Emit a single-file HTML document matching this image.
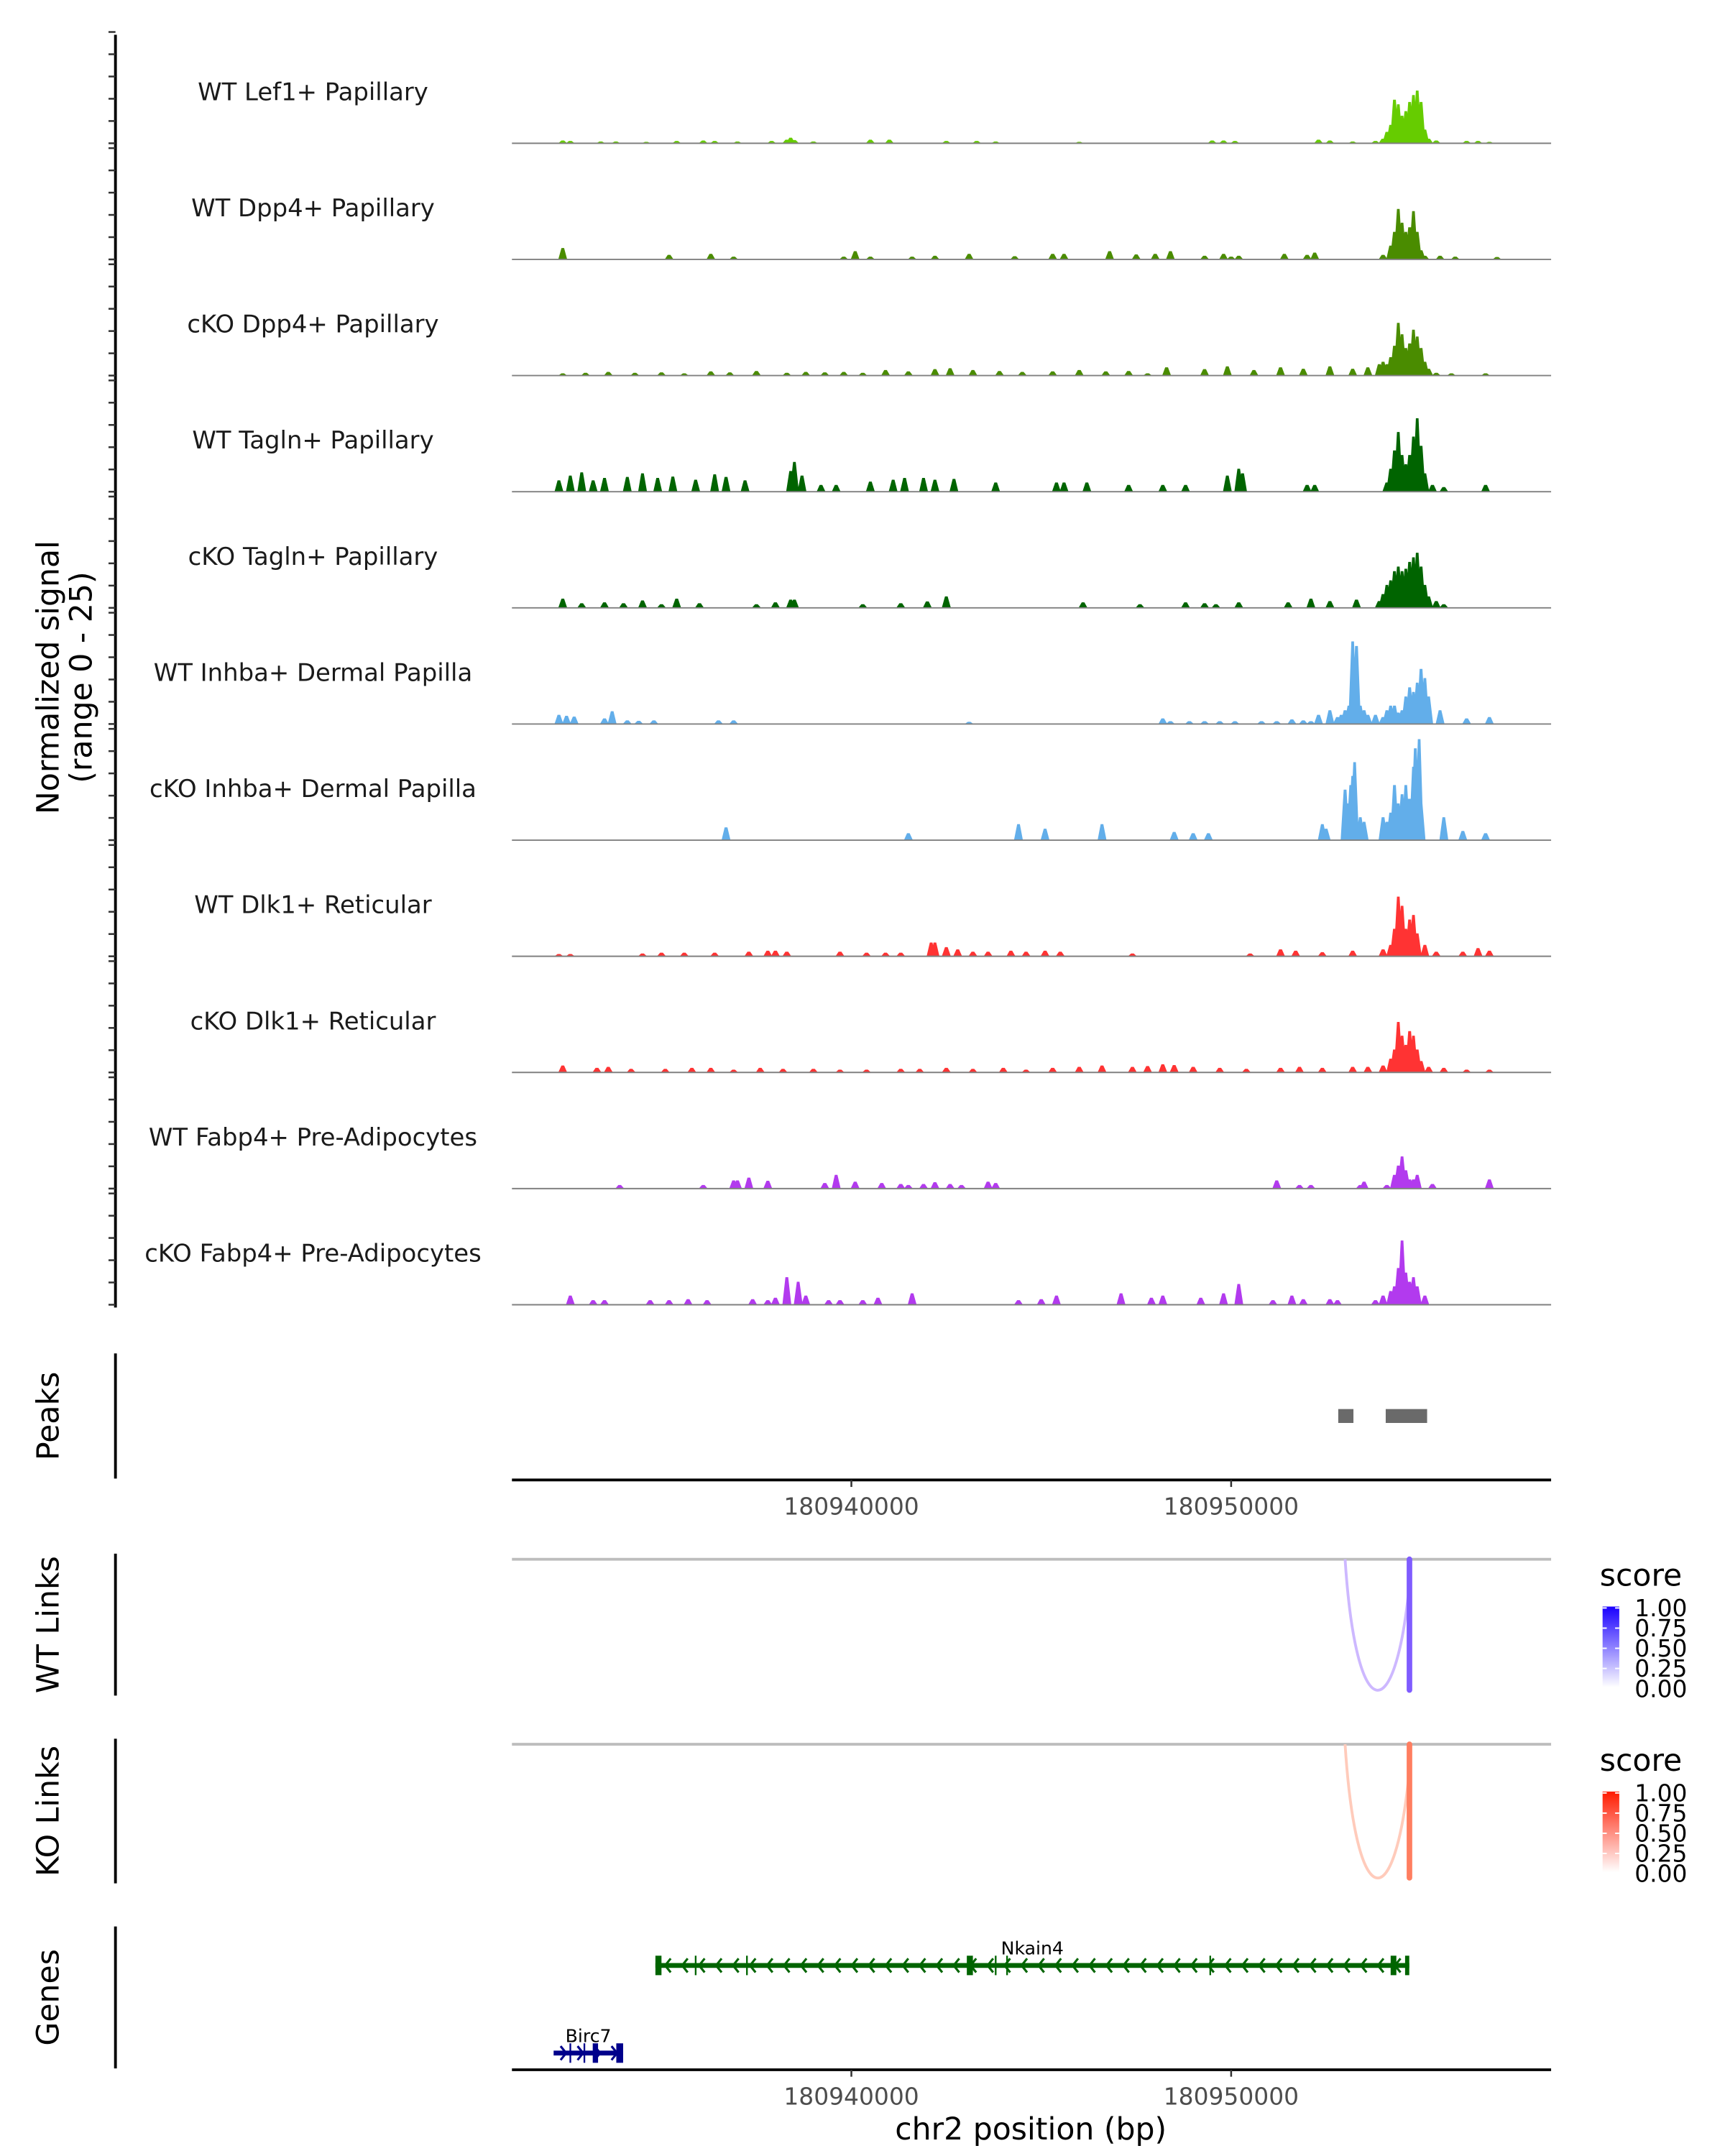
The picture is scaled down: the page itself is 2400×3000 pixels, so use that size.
<!DOCTYPE html>
<html><head><meta charset="utf-8"><style>
html,body{margin:0;padding:0;background:#fff;}
svg{display:block;}
text{font-family:"DejaVu Sans","Liberation Sans",sans-serif;}
</style></head><body>
<svg id="chart" width="2400" height="3000" viewBox="0 0 1240 1550" xmlns="http://www.w3.org/2000/svg">
<g id="tracks"></g>
<g id="axes"></g>
</svg>
<script>
// ---------- data ----------
const trackNames = ["WT Lef1+ Papillary","WT Dpp4+ Papillary","cKO Dpp4+ Papillary","WT Tagln+ Papillary","cKO Tagln+ Papillary","WT Inhba+ Dermal Papilla","cKO Inhba+ Dermal Papilla","WT Dlk1+ Reticular","cKO Dlk1+ Reticular","WT Fabp4+ Pre-Adipocytes","cKO Fabp4+ Pre-Adipocytes"];
const trackColors = ["#66cc00","#4a8c00","#4a8c00","#006400","#006400","#62aeea","#62aeea","#ff3333","#ff3333","#b23aee","#b23aee"];
// positions in kb offset from chr2:180930000, values = normalized signal (0-25)
const pos1 = [2.4,2.6,3.4,3.8,4.6,5.4,6.1,6.4,7.0,7.9,8.3,8.4,8.5,9.0,10.5,11.0,12.5,13.3,13.8,16.0,19.5,19.8,20.1,22.3,22.6,23.2,23.8,24.0,24.1,24.2,24.3,24.4,24.5,24.6,24.7,24.8,24.9,25.0,25.1,25.2,25.4,26.2,26.5,26.8];
const val1 = [0.6,0.5,0.4,0.4,0.3,0.5,0.6,0.5,0.4,0.5,0.8,1.2,0.7,0.4,0.8,0.8,0.5,0.5,0.4,0.3,0.6,0.6,0.5,0.8,0.6,0.4,0.5,1.0,2.5,4,9.5,8.5,6,7,9,10.5,11.5,9,3,1.0,0.6,0.5,0.5,0.3];
const pos2 = [2.4,5.2,6.3,6.9,9.8,10.1,10.5,11.6,12.2,13.1,14.3,15.3,15.6,16.8,17.5,18.0,18.4,19.3,19.8,20.0,20.2,21.4,22.0,22.2,24.0,24.2,24.3,24.4,24.5,24.6,24.7,24.8,24.9,25.0,25.1,25.5,25.9,27.0];
const val2 = [2.5,1,1.2,0.6,0.6,1.8,0.6,0.6,0.8,1.2,0.7,1.2,1.2,1.8,1.1,1.2,1.8,0.8,1.2,0.6,0.8,1.2,1.0,1.5,1,3,6,11,8,6,7,10.5,6,2,0.8,0.8,0.6,0.5];
const pos3 = [2.4,3.0,3.6,4.3,5.0,5.6,6.3,6.8,7.5,8.3,8.8,9.3,9.8,10.3,10.9,11.5,12.2,12.6,13.2,13.9,14.5,15.3,16.0,16.7,17.3,17.8,18.3,19.3,19.9,20.6,21.3,21.9,22.6,23.2,23.6,23.9,24.0,24.1,24.2,24.3,24.4,24.5,24.6,24.7,24.8,24.9,25.0,25.1,25.2,25.4,25.8,26.7];
const val3 = [0.5,0.6,0.8,0.6,0.7,0.5,0.9,0.7,1.0,0.6,0.8,0.7,0.8,0.6,1.2,0.9,1.4,1.6,1.2,1.0,0.8,0.9,1.2,0.9,1.0,0.5,1.8,1.4,2.0,1.2,1.8,1.5,2.0,1.5,1.8,2.5,3,2.5,4,6.5,11.5,9,6,7,10,8.5,6,3,1.5,0.6,0.5,0.5];
const pos4 = [2.3,2.6,2.9,3.2,3.5,4.1,4.5,4.9,5.3,5.9,6.4,6.7,7.2,8.4,8.5,8.7,9.2,9.6,10.5,11.1,11.4,11.9,12.2,12.7,13.8,15.4,15.6,16.2,17.3,18.2,18.8,19.9,20.2,20.3,22.0,22.2,24.1,24.2,24.3,24.4,24.5,24.6,24.7,24.8,24.9,25.0,25.1,25.3,25.6,26.7];
const val4 = [2.5,3.5,4.2,2.5,3.0,3.2,4.0,3.0,3.3,2.6,3.8,3.2,2.5,4.5,6.5,3.5,1.5,1.5,2.2,2.6,3.0,3.0,2.6,2.8,2.0,2.0,2.0,2.0,1.5,1.5,1.5,3.5,5,4,1.5,1.5,2,5,9,13,8,6,8,12,16,10,4,1.5,1.0,1.5];
const pos5 = [2.4,2.9,3.5,4.0,4.5,5.0,5.4,6.0,7.5,8.0,8.4,8.5,10.3,11.3,12.0,12.5,16.1,17.6,18.8,19.3,19.6,20.2,21.5,22.1,22.6,23.3,23.9,24.0,24.1,24.2,24.3,24.4,24.5,24.6,24.7,24.8,24.9,25.0,25.1,25.2,25.4,25.6];
const val5 = [2.0,1.0,1.2,1.0,1.6,0.8,2.0,1.0,0.8,1.2,1.8,1.8,0.8,1.0,1.4,2.5,1.2,0.8,1.2,1.0,0.8,1.2,1.2,2.0,1.5,1.8,1.5,3,5,6,8,9,8,8.5,10,11,12,9,5,2.5,1.5,0.8];
const pos6 = [2.3,2.5,2.7,3.5,3.7,4.1,4.4,4.8,6.5,6.9,13.1,18.2,18.4,18.9,19.3,19.7,20.1,20.8,21.2,21.6,21.9,22.1,22.3,22.6,22.8,22.9,23.0,23.1,23.2,23.3,23.4,23.5,23.6,23.8,24.0,24.1,24.2,24.3,24.4,24.5,24.6,24.7,24.8,24.9,25.0,25.1,25.2,25.5,26.2,26.8];
const val6 = [2.0,1.8,1.6,1.2,2.8,0.8,0.7,0.8,0.8,0.8,0.5,1.2,0.6,0.6,0.6,0.6,0.6,0.6,0.6,1.0,0.8,0.6,2.0,3.0,1.5,2.0,3.0,4.0,18,17,4,3,2,2,1.5,3,4,4,2.5,3,6,8,7,9,12,10,6,3,1.2,1.5];
const pos7 = [6.7,11.5,14.4,15.1,16.6,18.5,19.0,19.4,22.4,22.5,23.0,23.2,23.5,24.0,24.2,24.3,24.6,24.7,24.9,25.6,26.1,26.7];
const val7 = [2.8,1.5,3.5,2.5,3.5,1.8,1.5,1.5,3.5,2.5,11,14,4,5,6,12,12,9,16,5,2,1.5];
const pos7b = [23.05,23.15,23.25,23.4,24.1,24.4,24.5,24.65,24.75,24.8,24.85,24.95,25.0];
const val7b = [8,12,17,5,4,8,10,9,7,16,20,22,8];
const pos8 = [2.3,2.6,4.5,5.0,5.6,6.4,7.3,7.8,8.0,8.3,9.7,10.4,10.9,11.3,12.1,12.2,12.5,12.8,13.2,13.6,14.2,14.6,15.1,15.5,17.4,20.5,21.3,21.7,22.4,23.2,24.0,24.2,24.3,24.4,24.5,24.6,24.7,24.8,24.9,25.1,25.4,26.1,26.5,26.8];
const val8 = [0.5,0.5,0.6,0.8,0.8,0.8,1.0,1.2,1.2,1.0,1.0,0.8,0.8,0.8,3.0,3.0,2.0,1.5,1.0,1.0,1.2,1.0,1.2,1.0,0.6,0.6,1.5,1.2,0.9,1.2,1.5,2.5,6,13,11,6,8,9,5,2.5,1.0,1.0,1.8,1.2];
const pos9 = [2.4,3.3,3.6,4.2,5.1,5.8,6.3,6.9,7.6,8.2,9.0,9.7,10.4,11.3,11.8,12.5,13.2,14.0,14.6,15.3,16.0,16.6,17.4,17.8,18.2,18.5,19.0,19.7,20.4,21.3,21.8,22.4,23.2,23.6,24.0,24.2,24.3,24.4,24.5,24.6,24.7,24.8,24.9,25.0,25.2,25.6,26.2,26.8];
const val9 = [1.5,1.0,1.2,0.8,0.8,1.0,1.0,0.6,1.0,0.8,0.8,0.6,0.6,0.8,0.8,1.0,0.8,1.0,0.6,1.0,1.2,1.5,1.2,1.4,1.8,1.6,1.2,1.0,0.8,1.0,1.2,1.0,1.2,1.2,1.5,3,5,11,8,6,9,8,5,2.5,1.2,1.0,0.6,0.6];
const pos10 = [3.9,6.1,6.9,7.0,7.3,7.8,9.3,9.6,10.1,10.8,11.3,11.5,11.9,12.2,12.6,12.9,13.6,13.8,21.2,21.8,22.1,23.4,23.5,24.1,24.3,24.4,24.5,24.6,24.7,24.8,24.9,25.3,26.8];
const val10 = [0.8,0.8,1.8,1.8,2.4,1.7,1.2,3.0,1.5,1.2,1.0,0.8,1.0,1.4,1.0,0.8,1.5,1.2,1.8,0.8,0.8,0.8,1.5,0.8,3,5,7,4,2,2,3,1.0,2.0];
const pos11 = [2.6,3.2,3.5,4.7,5.2,5.7,6.2,7.4,7.8,8.0,8.3,8.6,8.8,9.4,9.7,10.3,10.7,11.6,14.4,15.0,15.4,17.1,17.9,18.2,19.2,19.8,20.2,21.1,21.6,21.9,22.6,22.8,23.8,24.0,24.2,24.3,24.4,24.5,24.6,24.7,24.8,24.9,25.1];
const val11 = [2.0,1.0,1.0,1.0,1.0,1.2,1.0,1.2,1.0,1.5,6,5,2,1.0,1.0,1.0,1.5,2.5,1.0,1.2,2.0,2.5,1.5,2.0,1.5,2.5,4.5,1.0,2.0,1.2,1.2,1.0,1.0,2,3,4,8,14,7,5,6,4,2];
const trackPos = [pos1,pos2,pos3,pos4,pos5,pos6,pos7.concat(pos7b),pos8,pos9,pos10,pos11];
const trackVal = [val1,val2,val3,val4,val5,val6,val7.concat(val7b),val8,val9,val10,val11];
const peakStart = [22.82,24.07];
const peakEnd = [23.22,25.16];
const xTicks = [180940000,180950000];
const xTickLabels = ["180940000","180950000"];
const wtLinkStart = [23.0]; const wtLinkEnd = [24.69]; const wtLinkScore = [0.3];
const wtLinkStart2 = [24.69]; const wtLinkEnd2 = [24.70]; const wtLinkScore2 = [0.75];
const koLinkStart = [23.0]; const koLinkEnd = [24.69]; const koLinkScore = [0.25];
const koLinkStart2 = [24.69]; const koLinkEnd2 = [24.70]; const koLinkScore2 = [0.6];
const legendTicks = ["1.00","0.75","0.50","0.25","0.00"];
const nkainStart = 4.84, nkainEnd = 24.69;
const nkainExons = [[4.84,5.0],[13.04,13.2],[24.2,24.35],[24.58,24.69]];
const nkainExonThin = [5.9,7.25,13.8,14.1,19.45];
const birc7Start = 2.16, birc7End = 3.99;
const birc7Exons = [[3.19,3.33],[3.81,3.99]];
const birc7Thin = [2.6,2.97];

// ---------- scales ----------
const X0 = 612, KB = 27.3; // x of 180940000, px per kb
function xs(kb){ return X0 + (kb - 10) * KB; }
function xbp(bp){ return X0 + (bp - 180940000) / 1000 * KB; }
const base0 = 103, trackStep = 83.5, pxPerUnit = 3.3;
function ys(i, v){ return base0 + i * trackStep - v * pxPerUnit; }

const NS = "http://www.w3.org/2000/svg";
function mk(tag, attrs, parent){ const e = document.createElementNS(NS, tag); for (const k in attrs) e.setAttribute(k, attrs[k]); parent.appendChild(e); return e; }
const svg = document.getElementById('chart');
const T = document.getElementById('tracks');
const A = document.getElementById('axes');

// tracks
for (let i = 0; i < trackNames.length; i++) {
  const g = mk('g', {}, T);
  
  
  const by = ys(i, 0);
  const lab = mk('text', {x: 225, y: by - 31, 'font-size': 17.5, 'text-anchor': 'middle', fill: '#1a1a1a'}, g);
  lab.textContent = trackNames[i];
  
  
  const P = trackPos[i], V = trackVal[i];
  let d = '';
  for (let j = 0; j < P.length; j++) {
    const x = xs(P[j]), w = 3.2;
    d += 'M' + (x - w).toFixed(1) + ',' + by + 'L' + (x - w * 0.3).toFixed(1) + ',' + ys(i, V[j]).toFixed(1) + 'L' + (x + w * 0.3).toFixed(1) + ',' + ys(i, V[j]).toFixed(1) + 'L' + (x + w).toFixed(1) + ',' + by + 'Z';
  }
  const area = mk('path', {d: d, fill: trackColors[i]}, g);
  
  
  const bl = mk('line', {x1: 368, x2: 1115, y1: by, y2: by, stroke: '#808080', 'stroke-width': 1}, g);
  
  
}
// left y axis
mk('line', {x1: 83, x2: 83, y1: 25, y2: 940, stroke: '#000', 'stroke-width': 2}, A);
for (let i = 0; i < trackNames.length; i++) {
  for (let k = 0; k <= 5; k++) {
    const y = ys(i, k * 5 * 80 / 82.5);
    const t = mk('line', {x1: 78, x2: 83, y1: y, y2: y, stroke: '#333', 'stroke-width': 1.3}, A);
    
    
  }
}
const yt = mk('text', {transform: 'translate(42,487) rotate(-90)', 'font-size': 22, 'text-anchor': 'middle', fill: '#000'}, A);


mk('tspan', {x: 0, dy: 0}, yt).textContent = 'Normalized signal';
mk('tspan', {x: 0, dy: 24}, yt).textContent = '(range 0 - 25)';

// Peaks
mk('line', {x1: 83, x2: 83, y1: 973, y2: 1063, stroke: '#000', 'stroke-width': 2}, A);
const pt = mk('text', {transform: 'translate(42,1018) rotate(-90)', 'font-size': 22, 'text-anchor': 'middle'}, A);
pt.textContent = 'Peaks';


for (let j = 0; j < peakStart.length; j++) {
  const r = mk('rect', {x: xs(peakStart[j]), y: 1013, width: xs(peakEnd[j]) - xs(peakStart[j]), height: 10, fill: '#6a6a6a'}, A);
  
  
}
function xAxis(y, name){
  const l = mk('line', {x1: 368, x2: 1115, y1: y, y2: y, stroke: '#000', 'stroke-width': 2}, A);
  
  
  for (let j = 0; j < xTicks.length; j++) {
    const x = xbp(xTicks[j]);
    mk('line', {x1: x, x2: x, y1: y, y2: y + 5, stroke: '#333', 'stroke-width': 1.3}, A);
    const t = mk('text', {x: x, y: y + 25, 'font-size': 17, 'text-anchor': 'middle', fill: '#4d4d4d'}, A);
    t.textContent = xTickLabels[j];
    
    
  }
}
xAxis(1064, 'peaks-x-axis');

// Links
function linkPanel(top, bottom, title, sA, eA, scA, sB, eB, scB, cLight, cDark, gradId, cTop){
  mk('line', {x1: 83, x2: 83, y1: top - 4, y2: bottom + 4, stroke: '#000', 'stroke-width': 2}, A);
  const tt = mk('text', {transform: 'translate(42,' + ((top + bottom) / 2) + ') rotate(-90)', 'font-size': 22, 'text-anchor': 'middle'}, A);
  tt.textContent = title;
  
  
  mk('line', {x1: 368, x2: 1115, y1: top, y2: top, stroke: '#bdbdbd', 'stroke-width': 2}, A);
  for (let j = 0; j < sA.length; j++) {
    const x1 = xs(sA[j]), x2 = xs(eA[j]), depth = bottom - top;
    const p = mk('path', {d: 'M' + x1 + ',' + top + ' C' + (x1 + 8) + ',' + (bottom + depth * 0.3) + ' ' + (x2 - 10) + ',' + (bottom + depth * 0.3) + ' ' + x2 + ',' + (top + depth * 0.2), fill: 'none', stroke: cLight, 'stroke-width': 2}, A);
    
    
  }
  for (let j = 0; j < sB.length; j++) {
    const x = (xs(sB[j]) + xs(eB[j])) / 2;
    const p = mk('line', {x1: x, x2: x, y1: top, y2: bottom, stroke: cDark, 'stroke-width': 4, 'stroke-linecap': 'round'}, A);
    
    
  }
  const defs = mk('defs', {}, svg);
  const lg = mk('linearGradient', {id: gradId, x1: 0, y1: 0, x2: 0, y2: 1}, defs);
  mk('stop', {offset: 0, 'stop-color': cTop}, lg);
  mk('stop', {offset: 1, 'stop-color': '#ffffff'}, lg);
  const lt = mk('text', {x: 1150, y: top + 19, 'font-size': 22}, A);
  lt.textContent = 'score';
  
  
  const cb = mk('rect', {x: 1152, y: top + 34, width: 12, height: 58, fill: 'url(#' + gradId + ')'}, A);
  
  
  for (let k = 0; k < legendTicks.length; k++) {
    const y = top + 35 + k * 14.5;
    mk('line', {x1: 1152, x2: 1155, y1: y, y2: y, stroke: '#fff'}, A);
    mk('line', {x1: 1161, x2: 1164, y1: y, y2: y, stroke: '#fff'}, A);
    const t = mk('text', {x: 1175, y: y + 6, 'font-size': 17}, A);
    t.textContent = legendTicks[k];
    
    
  }
}
linkPanel(1121, 1215, 'WT Links', wtLinkStart, wtLinkEnd, wtLinkScore, wtLinkStart2, wtLinkEnd2, wtLinkScore2, '#cdb8ff', '#7f5cff', 'gwt', '#1a00ff');
linkPanel(1254, 1350, 'KO Links', koLinkStart, koLinkEnd, koLinkScore, koLinkStart2, koLinkEnd2, koLinkScore2, '#ffcbbb', '#ff7e60', 'gko', '#ff1a00');

// Genes
mk('line', {x1: 83, x2: 83, y1: 1385, y2: 1487, stroke: '#000', 'stroke-width': 2}, A);
const gt = mk('text', {transform: 'translate(42,1436) rotate(-90)', 'font-size': 22, 'text-anchor': 'middle'}, A);
gt.textContent = 'Genes';


function gene(name, s, e, y, exons, thin, color, dir){
  const g = mk('g', {}, A);
  
  
  const x1 = xs(s), x2 = xs(e);
  mk('line', {x1: x1, x2: x2, y1: y, y2: y, stroke: color, 'stroke-width': 3.5}, g);
  for (let x = x1 + 8; x < x2 - 4; x += 12.2) {
    const d = dir < 0 ? 'M' + (x + 3) + ',' + (y - 5) + 'L' + (x - 1) + ',' + y + 'L' + (x + 3) + ',' + (y + 5) : 'M' + (x - 3) + ',' + (y - 5) + 'L' + (x + 1) + ',' + y + 'L' + (x - 3) + ',' + (y + 5);
    mk('path', {d: d, fill: 'none', stroke: color, 'stroke-width': 1.6}, g);
  }
  for (const ex of exons) mk('rect', {x: xs(ex[0]), y: y - 7, width: Math.max(3, xs(ex[1]) - xs(ex[0])), height: 14, fill: color}, g);
  for (const t of thin) mk('line', {x1: xs(t), x2: xs(t), y1: y - 7, y2: y + 7, stroke: color, 'stroke-width': 1.2}, g);
  const lab = mk('text', {x: (x1 + x2) / 2, y: y - 8, 'font-size': 13, 'text-anchor': 'middle'}, g);
  lab.textContent = name;
  
  
}
gene('Nkain4', nkainStart, nkainEnd, 1413, nkainExons, nkainExonThin, '#006400', -1);
gene('Birc7', birc7Start, birc7End, 1476, birc7Exons, birc7Thin, '#00008b', 1);
xAxis(1488, 'genes-x-axis');
const xt = mk('text', {x: 741, y: 1538, 'font-size': 22, 'text-anchor': 'middle'}, A);
xt.textContent = 'chr2 position (bp)';


</script>
</body></html>
